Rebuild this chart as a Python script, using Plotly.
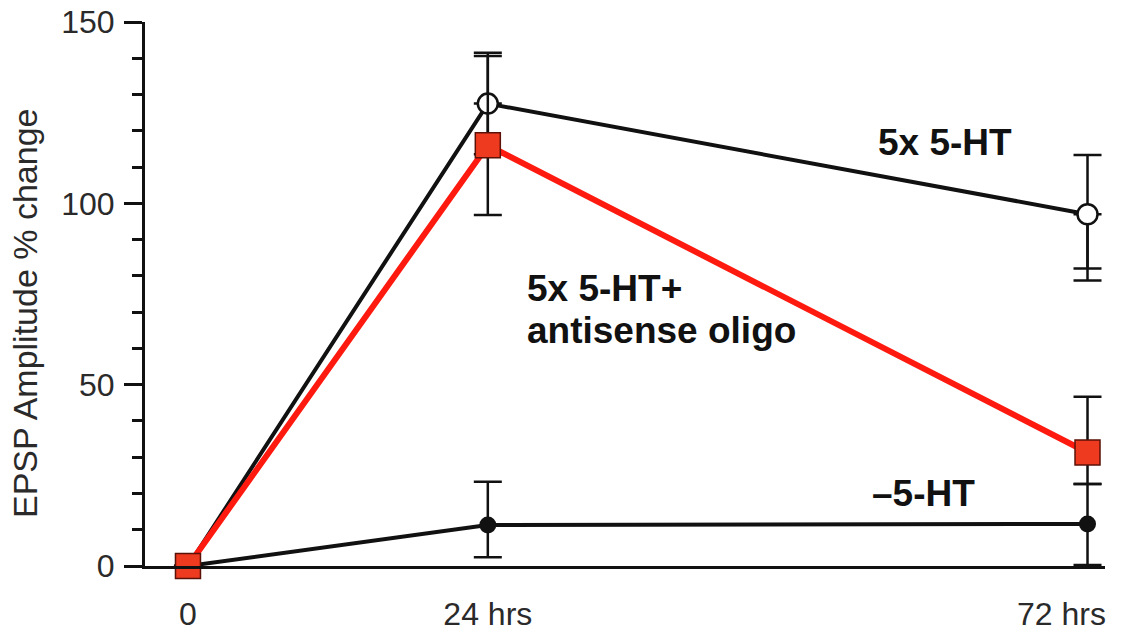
import plotly.graph_objects as go

# ---- data ----
hours = [0, 24, 72]
tick_text = ["0", "24 hrs", ""]
last_label = "72 hrs"
y_title = "EPSP Amplitude % change"

ht5_y = [0, 127.5, 97.0]
ht5_err_plus = [0, 14.0, 16.3]
ht5_err_minus = [0, 14.0, 15.0]
ht5_extra_minus = [0, 0, 18.3]

anti_y = [0, 116.0, 31.3]
anti_err_plus = [0, 24.6, 15.4]
anti_err_minus = [0, 19.2, 8.7]

ctrl_y = [0, 11.3, 11.6]
ctrl_err_plus = [0, 11.9, 11.0]
ctrl_err_minus = [0, 8.9, 11.3]

y_tickvals = [0, 50, 100, 150]

BLACK = "#111111"
RED = "#FF1A10"
SQ_FILL = "#EE3A1E"

fig = go.Figure()

# extra lower error cap for 5x 5-HT at 72 hrs
fig.add_trace(go.Scatter(
    x=hours, y=ht5_y, mode="markers", marker=dict(size=1, opacity=0),
    error_y=dict(type="data", symmetric=False, array=[0, 0, 0], arrayminus=ht5_extra_minus,
                 color=BLACK, thickness=2.5, width=14),
    cliponaxis=False, showlegend=False, hoverinfo="skip"))

# -5-HT
fig.add_trace(go.Scatter(
    x=hours, y=ctrl_y, mode="lines+markers", name="–5-HT",
    line=dict(color=BLACK, width=4),
    marker=dict(symbol="circle", size=17, color=BLACK),
    error_y=dict(type="data", symmetric=False, array=ctrl_err_plus, arrayminus=ctrl_err_minus,
                 color=BLACK, thickness=2.5, width=14),
    cliponaxis=False, showlegend=False))

# 5x 5-HT
fig.add_trace(go.Scatter(
    x=hours, y=ht5_y, mode="lines+markers", name="5x 5-HT",
    line=dict(color=BLACK, width=4),
    marker=dict(symbol="circle", size=20, color="white", line=dict(color=BLACK, width=2.5)),
    error_y=dict(type="data", symmetric=False, array=ht5_err_plus, arrayminus=ht5_err_minus,
                 color=BLACK, thickness=2.5, width=14),
    cliponaxis=False, showlegend=False))

# 5x 5-HT + antisense oligo
fig.add_trace(go.Scatter(
    x=hours, y=anti_y, mode="lines+markers", name="5x 5-HT+ antisense oligo",
    line=dict(color=RED, width=6),
    marker=dict(symbol="square", size=25, color=SQ_FILL, line=dict(color="#5a1208", width=1.5)),
    error_y=dict(type="data", symmetric=False, array=anti_err_plus, arrayminus=anti_err_minus,
                 color=BLACK, thickness=2.5, width=14),
    cliponaxis=False, showlegend=False))

FAM = "Liberation Sans, Arial, Helvetica, sans-serif"
lab_font = dict(family=FAM, size=37, color="#111111")
fig.add_annotation(x=60.6, y=116.9, text="<b>5x 5-HT</b>", showarrow=False, font=lab_font,
                   xanchor="center", yanchor="middle")
fig.add_annotation(x=27.0, y=76.6, text="<b>5x 5-HT+</b>", showarrow=False, font=lab_font,
                   xanchor="left", yanchor="middle")
fig.add_annotation(x=27.0, y=65.0, text="<b>antisense oligo</b>", showarrow=False, font=lab_font,
                   xanchor="left", yanchor="middle")
fig.add_annotation(x=58.9, y=19.9, text="<b>–5-HT</b>", showarrow=False, font=lab_font,
                   xanchor="center", yanchor="middle")

tick_font = dict(family=FAM, size=32, color="#2a2a2a")
title_font = dict(family=FAM, size=34, color="#2a2a2a")

# last x label, kept inside the figure like in the reference
fig.add_annotation(x=hours[-1], y=0, text=last_label, showarrow=False, font=tick_font,
                   xanchor="right", yanchor="middle", xshift=20, yshift=-48)

# y-axis title
fig.add_annotation(xref="paper", yref="paper", x=-0.125, y=0.465, text=y_title,
                   textangle=-90, showarrow=False, font=title_font,
                   xanchor="center", yanchor="middle")

fig.update_layout(
    width=1129, height=632,
    margin=dict(l=145, r=24, t=22, b=66, autoexpand=False),
    paper_bgcolor="white", plot_bgcolor="white",
    xaxis=dict(range=[-3.44, 73.4], showgrid=False, zeroline=False, automargin=False,
               showline=True, linecolor=BLACK, linewidth=3,
               tickmode="array", tickvals=hours, ticktext=tick_text,
               ticks="", tickfont=tick_font, ticklabelstandoff=18, ticklabeloverflow="allow"),
    yaxis=dict(range=[0, 150], showgrid=False, zeroline=False, automargin=False,
               showline=True, linecolor=BLACK, linewidth=3,
               tickmode="array", tickvals=y_tickvals,
               ticks="outside", ticklen=18, tickwidth=2.5, tickcolor=BLACK,
               tickfont=tick_font, ticklabelstandoff=3, ticklabeloverflow="allow",
               minor=dict(dtick=10, ticks="outside", ticklen=10, tickwidth=2.5, tickcolor=BLACK, showgrid=False)),
)

fig.write_html("out.html", config={"displayModeBar": False},
               post_script="document.body.style.margin='0';")
